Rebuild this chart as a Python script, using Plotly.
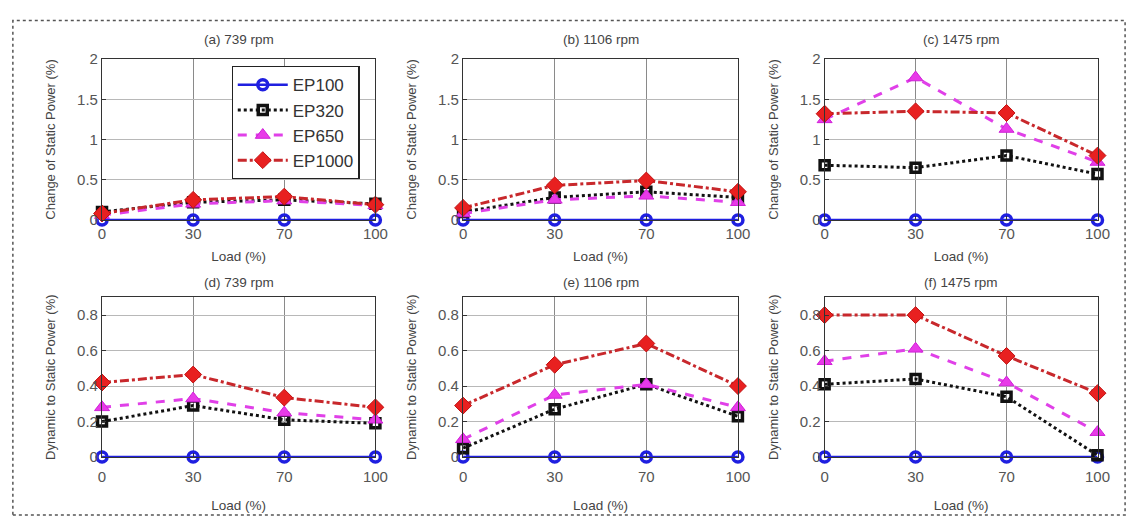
import plotly.graph_objects as go

loads = ["0", "30", "70", "100"]
series = ["EP100", "EP320", "EP650", "EP1000"]

titles = ["(a) 739 rpm", "(b) 1106 rpm", "(c) 1475 rpm",
          "(d) 739 rpm", "(e) 1106 rpm", "(f) 1475 rpm"]

# Change of static power (%)
a_ep100 = [0, 0, 0, 0]
a_ep320 = [0.10, 0.22, 0.25, 0.20]
a_ep650 = [0.06, 0.20, 0.24, 0.18]
a_ep1000 = [0.08, 0.25, 0.29, 0.19]

b_ep100 = [0, 0, 0, 0]
b_ep320 = [0.10, 0.28, 0.35, 0.28]
b_ep650 = [0.08, 0.25, 0.30, 0.22]
b_ep1000 = [0.15, 0.43, 0.49, 0.35]

c_ep100 = [0, 0, 0, 0]
c_ep320 = [0.68, 0.65, 0.80, 0.57]
c_ep650 = [1.25, 1.77, 1.13, 0.72]
c_ep1000 = [1.32, 1.35, 1.33, 0.80]

# Dynamic to static power (%)
d_ep100 = [0, 0, 0, 0]
d_ep320 = [0.20, 0.29, 0.21, 0.19]
d_ep650 = [0.28, 0.33, 0.25, 0.21]
d_ep1000 = [0.42, 0.465, 0.335, 0.28]

e_ep100 = [0, 0, 0, 0]
e_ep320 = [0.05, 0.27, 0.41, 0.23]
e_ep650 = [0.10, 0.35, 0.41, 0.28]
e_ep1000 = [0.29, 0.52, 0.64, 0.40]

f_ep100 = [0, 0, 0, 0]
f_ep320 = [0.41, 0.44, 0.34, 0.01]
f_ep650 = [0.54, 0.61, 0.42, 0.14]
f_ep1000 = [0.80, 0.80, 0.57, 0.36]

panels = [
    [a_ep100, a_ep320, a_ep650, a_ep1000],
    [b_ep100, b_ep320, b_ep650, b_ep1000],
    [c_ep100, c_ep320, c_ep650, c_ep1000],
    [d_ep100, d_ep320, d_ep650, d_ep1000],
    [e_ep100, e_ep320, e_ep650, e_ep1000],
    [f_ep100, f_ep320, f_ep650, f_ep1000],
]

styles = [
    dict(line=dict(color="#1f1fe0", width=2.5, dash="solid"),
         marker=dict(symbol="circle-open", size=10, color="#1f1fe0", line=dict(width=3.5, color="#1f1fe0"))),
    dict(line=dict(color="#111111", width=3, dash="dot"),
         marker=dict(symbol="square-open", size=9, color="#111111", line=dict(width=3.5, color="#111111"))),
    dict(line=dict(color="#e040e8", width=3, dash="dash"),
         marker=dict(symbol="triangle-up", size=13, color="#e83ae8", line=dict(width=1, color="#d020d8"))),
    dict(line=dict(color="#c8282c", width=3, dash="dashdot"),
         marker=dict(symbol="diamond", size=13, color="#e82020", line=dict(width=1, color="#c01010"))),
]

W, H = 1144, 526
col_px = [(99.5, 377), (466, 745), (833, 1110)]
row_px = [(51.7, 218), (298, 463)]

fig = go.Figure()
layout = {}
font_family = "Liberation Sans, Arial, sans-serif"
for p in range(6):
    r, c = divmod(p, 3)
    idx = "" if p == 0 else str(p + 1)
    xa, ya = "x" + idx, "y" + idx
    for s in range(4):
        fig.add_trace(go.Scatter(
            x=loads, y=panels[p][s], name=series[s], mode="lines+markers",
            xaxis=xa, yaxis=ya, showlegend=(p == 0), cliponaxis=False,
            **styles[s]))
    x0, x1 = col_px[c]
    y0, y1 = row_px[r]
    layout["xaxis" + idx] = dict(
        domain=[x0 / W, x1 / W], anchor=ya, type="category",
        categoryorder="array", categoryarray=loads, range=[0, 3],
        showline=True, linecolor="#333333", linewidth=1.2, mirror=True,
        showgrid=True, gridcolor="#8a8a8a", gridwidth=1,
        ticks="inside", ticklen=4, tickcolor="#333",
        ticklabelstandoff=(0 if r == 0 else 6),
        tickfont=dict(size=15, color="#555555", family=font_family),
        title=dict(text="Load (%)", font=dict(size=13.5, color="#444", family=font_family),
                   standoff=(10 if r == 0 else 16)),
        zeroline=False)
    if r == 0:
        yr, tv = [0, 2], [0, 0.5, 1, 1.5, 2]
        tt = ["0", "0.5", "1", "1.5", "2"]
        ytitle = "Change of Static Power (%)"
    else:
        yr, tv = [0, 0.9], [0, 0.2, 0.4, 0.6, 0.8]
        tt = ["0", "0.2", "0.4", "0.6", "0.8"]
        ytitle = "Dynamic to Static Power (%)"
    layout["yaxis" + idx] = dict(
        domain=[1 - y1 / H, 1 - y0 / H], anchor=xa, range=yr,
        tickvals=tv, ticktext=tt,
        showline=True, linecolor="#333333", linewidth=1.2, mirror=True,
        showgrid=True, gridcolor="#b8b8b8", gridwidth=1,
        ticks="inside", ticklen=4, tickcolor="#333",
        tickfont=dict(size=15, color="#555555", family=font_family),
        title=dict(text=ytitle, font=dict(size=13, color="#444", family=font_family), standoff=18),
        zeroline=False)

annotations = []
for p in range(6):
    r, c = divmod(p, 3)
    x0, x1 = col_px[c]
    ty = 32 if r == 0 else 283
    annotations.append(dict(
        text=titles[p], x=(x0 + x1) / 2 / W, y=1 - ty / H, xref="paper", yref="paper",
        showarrow=False, xanchor="center", yanchor="middle",
        font=dict(size=13.5, color="#444", family=font_family)))

fig.update_layout(
    **layout,
    width=W, height=H,
    margin=dict(l=0, r=0, t=0, b=0),
    paper_bgcolor="white", plot_bgcolor="white",
    font=dict(family=font_family),
    annotations=annotations,
    legend=dict(x=231 / W, y=1 - 59 / H, xanchor="left", yanchor="top",
                bgcolor="white", bordercolor="#222", borderwidth=1.2,
                font=dict(size=17, color="#333", family=font_family),
                itemwidth=50, tracegroupgap=0),
    shapes=[dict(type="rect", xref="paper", yref="paper",
                 x0=9 / W, x1=1138 / W, y0=1 - 523 / H, y1=1 - 12 / H,
                 line=dict(color="#555", width=1.5, dash="dot"))],
)

fig.write_html("out.html")
